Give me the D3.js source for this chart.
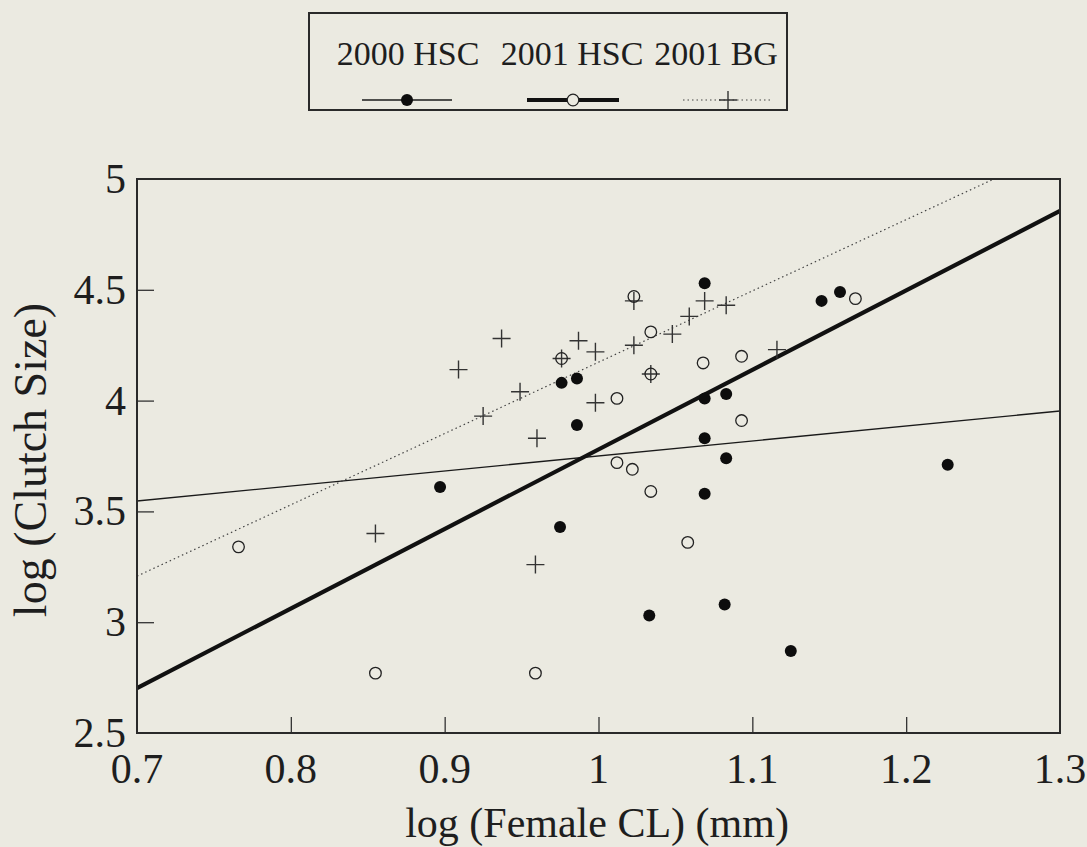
<!DOCTYPE html>
<html>
<head>
    <meta charset="utf-8">
    <title>Clutch size vs female CL</title>
    <script type="text/javascript" src="https://cdn.jsdelivr.net/npm/d3@7"></script>
    <style>
        body { margin: 0; background: #ebeae1; }
        svg { display: block; font-family: "Liberation Serif", "Times New Roman", serif; }
        text { fill: #1e1e1e; }
    </style>
</head>
<body>
<script type="text/javascript">
// tick values and labels
var xTicks = [0.7, 0.8, 0.9, 1, 1.1, 1.2, 1.3];
var xTickLabels = ["0.7", "0.8", "0.9", "1", "1.1", "1.2", "1.3"];
var yTicks = [2.5, 3, 3.5, 4, 4.5, 5];
var yTickLabels = ["2.5", "3", "3.5", "4", "4.5", "5"];

var seriesNames = ["2000 HSC", "2001 HSC", "2001 BG"];

// 2000 HSC (filled dots)
var hsc2000X = [1.069, 0.976, 0.986, 0.986, 1.069, 1.083, 1.069, 1.083, 0.897, 1.069, 1.145, 1.157, 1.227, 0.975, 1.033, 1.082, 1.125];
var hsc2000Y = [4.53, 4.08, 4.10, 3.89, 4.01, 4.03, 3.83, 3.74, 3.61, 3.58, 4.45, 4.49, 3.71, 3.43, 3.03, 3.08, 2.87];

// 2001 HSC (open circles)
var hsc2001X = [1.023, 1.034, 0.976, 1.034, 1.068, 1.093, 1.012, 1.093, 1.012, 1.022, 1.034, 1.167, 1.058, 0.766, 0.855, 0.959];
var hsc2001Y = [4.47, 4.31, 4.19, 4.12, 4.17, 4.20, 4.01, 3.91, 3.72, 3.69, 3.59, 4.46, 3.36, 3.34, 2.77, 2.77];

// 2001 BG (plus signs)
var bg2001X = [1.023, 1.069, 1.083, 1.059, 1.048, 1.023, 0.987, 0.998, 0.937, 0.909, 0.976, 1.034, 0.949, 0.925, 0.998, 0.960, 1.116, 0.855, 0.959];
var bg2001Y = [4.45, 4.45, 4.43, 4.38, 4.30, 4.25, 4.27, 4.22, 4.28, 4.14, 4.19, 4.12, 4.04, 3.93, 3.99, 3.83, 4.23, 3.40, 3.26];

// fitted lines, end points in data units
var fitHsc2000 = [[0.7, 3.547], [1.3, 3.953]];
var fitHsc2001 = [[0.7, 2.703], [1.3, 4.856]];
var fitBg2001 = [[0.7, 3.208], [1.257, 5.0]];

var width = 1087, height = 847,
    margins = {top: 179, left: 137, right: 27, bottom: 114};

var x = d3.scaleLinear().domain([0.7, 1.3]).range([margins.left, width - margins.right]);
var y = d3.scaleLinear().domain([2.5, 5]).range([height - margins.bottom, margins.top]);

var svg = d3.select("body").append("svg")
        .attr("width", width)
        .attr("height", height);

function zip(xs, ys) {
    return xs.map(function (v, i) { return [v, ys[i]]; });
}

function plusPath(cx, cy, r) {
    return "M" + (cx - r) + "," + cy + "H" + (cx + r) + "M" + cx + "," + (cy - r) + "V" + (cy + r);
}

// clip for the plot body
svg.append("defs").append("clipPath")
        .attr("id", "body-clip")
        .append("rect")
        .attr("x", x(0.7))
        .attr("y", y(5))
        .attr("width", x(1.3) - x(0.7))
        .attr("height", y(2.5) - y(5));

// axes: ticks inward, labels drawn separately
var xAxis = d3.axisBottom(x).tickValues(xTicks.slice(1, -1)).tickSize(-16).tickFormat("");
var yAxis = d3.axisLeft(y).tickValues(yTicks.slice(1, -1)).tickSize(-17).tickFormat("");

svg.append("g")
        .attr("transform", "translate(0," + y(2.5) + ")")
        .call(xAxis)
        .call(function (g) {
            g.select(".domain").remove();
            g.selectAll("line").attr("stroke", "#333").attr("stroke-width", 1.3);
        });

svg.append("g")
        .attr("transform", "translate(" + x(0.7) + ",0)")
        .call(yAxis)
        .call(function (g) {
            g.select(".domain").remove();
            g.selectAll("line").attr("stroke", "#333").attr("stroke-width", 1.3);
        });

var labelG = svg.append("g");

labelG.selectAll("text.xl").data(xTicks)
        .enter().append("text")
        .attr("class", "xl")
        .attr("x", function (d) { return x(d); })
        .attr("y", y(2.5) + 50)
        .attr("text-anchor", "middle")
        .style("font-size", "42px")
        .text(function (d, i) { return xTickLabels[i]; });

labelG.selectAll("text.yl").data(yTicks)
        .enter().append("text")
        .attr("class", "yl")
        .attr("x", x(0.7) - 11)
        .attr("y", function (d) { return y(d) + 14; })
        .attr("text-anchor", "end")
        .style("font-size", "42px")
        .text(function (d, i) { return yTickLabels[i]; });

labelG.append("text")
        .attr("x", 597).attr("y", 837)
        .attr("text-anchor", "middle")
        .style("font-size", "42px")
        .text("log (Female CL) (mm)");

labelG.append("text")
        .attr("transform", "translate(46,460) rotate(-90)")
        .attr("text-anchor", "middle")
        .style("font-size", "46px")
        .text("log (Clutch Size)");

// body
var bodyG = svg.append("g").attr("clip-path", "url(#body-clip)");

var line = d3.line()
        .x(function (d) { return x(d[0]); })
        .y(function (d) { return y(d[1]); });

bodyG.append("path").attr("d", line(fitHsc2000))
        .attr("fill", "none").attr("stroke", "#1a1a1a").attr("stroke-width", 1.4);
bodyG.append("path").attr("d", line(fitHsc2001))
        .attr("fill", "none").attr("stroke", "#111").attr("stroke-width", 4.2);
bodyG.append("path").attr("d", line(fitBg2001))
        .attr("fill", "none").attr("stroke", "#444").attr("stroke-width", 1.2)
        .attr("stroke-dasharray", "1.5,3");

bodyG.selectAll("path.bg").data(zip(bg2001X, bg2001Y))
        .enter().append("path")
        .attr("class", "bg")
        .attr("d", function (d) { return plusPath(x(d[0]), y(d[1]), 9); })
        .attr("stroke", "#333").attr("stroke-width", 1.4).attr("fill", "none");

bodyG.selectAll("circle.hsc01").data(zip(hsc2001X, hsc2001Y))
        .enter().append("circle")
        .attr("class", "hsc01")
        .attr("cx", function (d) { return x(d[0]); })
        .attr("cy", function (d) { return y(d[1]); })
        .attr("r", 5.8)
        .attr("fill", "none").attr("stroke", "#222").attr("stroke-width", 1.3);

bodyG.selectAll("circle.hsc00").data(zip(hsc2000X, hsc2000Y))
        .enter().append("circle")
        .attr("class", "hsc00")
        .attr("cx", function (d) { return x(d[0]); })
        .attr("cy", function (d) { return y(d[1]); })
        .attr("r", 6)
        .attr("fill", "#0d0d0d");

// frame
svg.append("rect")
        .attr("x", x(0.7)).attr("y", y(5))
        .attr("width", x(1.3) - x(0.7)).attr("height", y(2.5) - y(5))
        .attr("fill", "none").attr("stroke", "#2a2a2a").attr("stroke-width", 2);

// legend
var legendG = svg.append("g");
legendG.append("rect")
        .attr("x", 309).attr("y", 13).attr("width", 478).attr("height", 97)
        .attr("fill", "none").attr("stroke", "#2a2a2a").attr("stroke-width", 2);

var legendTextX = [408, 572, 716];
var legendCx = [407, 573, 728];
var legendHalf = [45, 46, 45];
seriesNames.forEach(function (name, i) {
    legendG.append("text")
            .attr("x", legendTextX[i]).attr("y", 65)
            .attr("text-anchor", "middle")
            .style("font-size", "34px")
            .text(name);
});

legendG.append("line").attr("x1", legendCx[0] - legendHalf[0]).attr("x2", legendCx[0] + legendHalf[0])
        .attr("y1", 100).attr("y2", 100).attr("stroke", "#1a1a1a").attr("stroke-width", 1.4);
legendG.append("circle").attr("cx", legendCx[0]).attr("cy", 100).attr("r", 6).attr("fill", "#0d0d0d");

legendG.append("line").attr("x1", legendCx[1] - legendHalf[1]).attr("x2", legendCx[1] + legendHalf[1])
        .attr("y1", 100).attr("y2", 100).attr("stroke", "#111").attr("stroke-width", 4.2);
legendG.append("circle").attr("cx", legendCx[1]).attr("cy", 100).attr("r", 5.8)
        .attr("fill", "#ebeae1").attr("stroke", "#222").attr("stroke-width", 1.3);

legendG.append("line").attr("x1", legendCx[2] - legendHalf[2]).attr("x2", legendCx[2] + legendHalf[2])
        .attr("y1", 100).attr("y2", 100).attr("stroke", "#444").attr("stroke-width", 1.2)
        .attr("stroke-dasharray", "1.5,3");
legendG.append("path").attr("d", plusPath(legendCx[2], 100, 9))
        .attr("stroke", "#333").attr("stroke-width", 1.4).attr("fill", "none");
</script>
</body>
</html>
